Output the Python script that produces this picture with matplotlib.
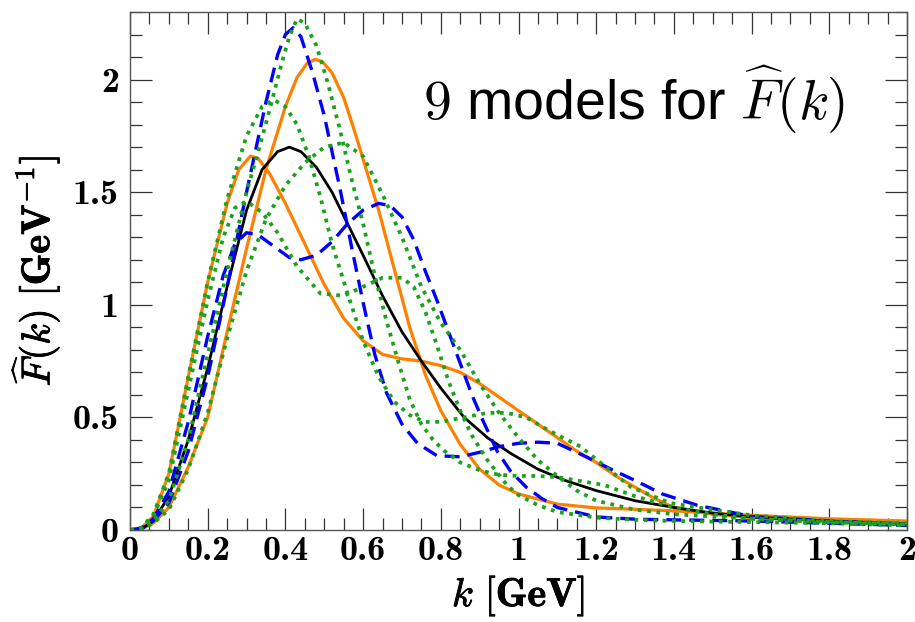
import matplotlib.pyplot as plt
import matplotlib.patheffects as pe
from matplotlib.ticker import MultipleLocator, FormatStrFormatter

plt.rcParams['mathtext.fontset'] = 'cm'

# central model (black)
k_c = [0, 0.03, 0.06, 0.1, 0.15, 0.2, 0.25, 0.3, 0.34, 0.38, 0.41, 0.44, 0.48, 0.52, 0.56, 0.6,
       0.65, 0.7, 0.75, 0.8, 0.86, 0.92, 0.98, 1.05, 1.12, 1.2, 1.3, 1.4, 1.5, 1.6, 1.8, 2.0]
F_c = [0, 0.005, 0.04, 0.15, 0.40, 0.72, 1.08, 1.42, 1.60, 1.68, 1.70, 1.68, 1.61, 1.50, 1.36, 1.22,
       1.04, 0.88, 0.75, 0.63, 0.50, 0.41, 0.34, 0.27, 0.22, 0.175, 0.13, 0.10, 0.075, 0.058, 0.04, 0.028]

# orange models
k_o1 = [0, 0.03, 0.06, 0.1, 0.15, 0.2, 0.25, 0.28, 0.31, 0.33, 0.36, 0.4, 0.45, 0.5, 0.55, 0.6,
        0.65, 0.7, 0.75, 0.8, 0.85, 0.9, 0.95, 1.0, 1.05, 1.1, 1.15, 1.2, 1.25, 1.3, 1.35, 1.4,
        1.5, 1.6, 1.8, 2.0]
F_o1 = [0, 0.01, 0.06, 0.25, 0.68, 1.10, 1.45, 1.60, 1.66, 1.65, 1.58, 1.45, 1.27, 1.09, 0.94, 0.84,
        0.78, 0.76, 0.75, 0.73, 0.70, 0.65, 0.59, 0.53, 0.47, 0.41, 0.35, 0.30, 0.24, 0.19, 0.14, 0.10,
        0.07, 0.055, 0.04, 0.03]
k_o2 = [0, 0.03, 0.06, 0.1, 0.15, 0.2, 0.25, 0.3, 0.35, 0.4, 0.43, 0.455, 0.476, 0.495, 0.52, 0.55,
        0.58, 0.61, 0.64, 0.68, 0.72, 0.76, 0.8, 0.85, 0.9, 0.95, 1.0, 1.1, 1.2, 1.3, 1.4, 1.5,
        1.6, 1.8, 2.0]
F_o2 = [0, 0.005, 0.03, 0.10, 0.28, 0.50, 0.88, 1.25, 1.60, 1.88, 2.01, 2.07, 2.09, 2.08, 2.03, 1.92,
        1.76, 1.59, 1.42, 1.16, 0.90, 0.69, 0.53, 0.38, 0.27, 0.20, 0.16, 0.115, 0.098, 0.092, 0.085, 0.075,
        0.065, 0.05, 0.04]

# blue models
k_b1 = [0, 0.03, 0.06, 0.1, 0.15, 0.2, 0.25, 0.3, 0.35, 0.38, 0.4, 0.42, 0.44, 0.47, 0.5, 0.54,
        0.57, 0.6, 0.63, 0.66, 0.7, 0.74, 0.79, 0.85, 0.9, 0.95, 1.0, 1.05, 1.1, 1.18, 1.25, 1.3,
        1.37, 1.46, 1.6, 1.8, 2.0]
F_b1 = [0, 0.005, 0.04, 0.12, 0.35, 0.68, 1.08, 1.50, 1.90, 2.11, 2.20, 2.23, 2.19, 2.03, 1.84, 1.52,
        1.26, 1.01, 0.78, 0.61, 0.47, 0.385, 0.33, 0.325, 0.345, 0.37, 0.385, 0.39, 0.385, 0.32, 0.26, 0.22,
        0.16, 0.11, 0.06, 0.04, 0.025]
k_b2 = [0, 0.03, 0.06, 0.1, 0.15, 0.2, 0.24, 0.27, 0.3, 0.33, 0.37, 0.41, 0.44, 0.48, 0.52, 0.56,
        0.6, 0.64, 0.67, 0.7, 0.73, 0.76, 0.79, 0.82, 0.85, 0.88, 0.91, 0.945, 0.98, 1.02, 1.06, 1.1,
        1.2, 1.3, 1.4, 1.6, 1.8, 2.0]
F_b2 = [0, 0.008, 0.05, 0.17, 0.48, 0.86, 1.13, 1.27, 1.32, 1.31, 1.26, 1.21, 1.20, 1.22, 1.28, 1.36,
        1.42, 1.45, 1.44, 1.39, 1.29, 1.15, 1.02, 0.88, 0.74, 0.60, 0.48, 0.35, 0.26, 0.19, 0.14, 0.10,
        0.058, 0.048, 0.045, 0.04, 0.03, 0.02]

# green models
k_g1 = [0, 0.03, 0.06, 0.1, 0.15, 0.2, 0.25, 0.3, 0.33, 0.36, 0.39, 0.41, 0.43, 0.45, 0.48, 0.51,
        0.54, 0.57, 0.6, 0.63, 0.66, 0.69, 0.72, 0.75, 0.78, 0.81, 0.85, 0.9, 0.95, 1.0, 1.05, 1.1,
        1.15, 1.22, 1.3, 1.4, 1.5, 1.6, 1.8, 2.0]
F_g1 = [0, 0.005, 0.04, 0.13, 0.40, 0.78, 1.15, 1.50, 1.68, 1.87, 2.07, 2.19, 2.27, 2.25, 2.15, 1.98,
        1.78, 1.56, 1.36, 1.13, 0.93, 0.75, 0.58, 0.47, 0.40, 0.35, 0.30, 0.265, 0.245, 0.24, 0.24, 0.235,
        0.22, 0.20, 0.15, 0.10, 0.07, 0.05, 0.035, 0.025]
k_g2 = [0, 0.03, 0.06, 0.1, 0.15, 0.2, 0.25, 0.3, 0.34, 0.37, 0.4, 0.43, 0.46, 0.49, 0.52, 0.56,
        0.6, 0.64, 0.68, 0.72, 0.76, 0.8, 0.86, 0.92, 0.97, 1.02, 1.08, 1.16, 1.21, 1.29, 1.39, 1.48,
        1.6, 1.8, 2.0]
F_g2 = [0, 0.01, 0.07, 0.25, 0.68, 1.10, 1.47, 1.75, 1.88, 1.91, 1.88, 1.80, 1.66, 1.48, 1.27, 1.05,
        0.84, 0.68, 0.57, 0.51, 0.48, 0.48, 0.50, 0.52, 0.52, 0.50, 0.44, 0.37, 0.30, 0.19, 0.12, 0.095,
        0.065, 0.04, 0.03]
k_g3 = [0, 0.03, 0.06, 0.1, 0.15, 0.2, 0.25, 0.3, 0.35, 0.4, 0.45, 0.5, 0.55, 0.6, 0.65, 0.7,
        0.75, 0.8, 0.85, 0.9, 0.95, 1.0, 1.05, 1.1, 1.15, 1.2, 1.3, 1.4, 1.5, 1.6, 1.8, 2.0]
F_g3 = [0, 0.004, 0.03, 0.09, 0.27, 0.52, 0.85, 1.15, 1.38, 1.53, 1.63, 1.70, 1.72, 1.66, 1.49, 1.30,
        1.08, 0.92, 0.80, 0.65, 0.52, 0.41, 0.31, 0.24, 0.175, 0.13, 0.09, 0.07, 0.06, 0.05, 0.035, 0.025]
k_g4 = [0, 0.03, 0.06, 0.1, 0.15, 0.2, 0.24, 0.27, 0.3, 0.34, 0.38, 0.43, 0.49, 0.55, 0.6, 0.65,
        0.7, 0.73, 0.76, 0.79, 0.82, 0.85, 0.88, 0.92, 0.97, 1.0, 1.05, 1.1, 1.2, 1.3, 1.4, 1.6,
        1.8, 2.0]
F_g4 = [0, 0.01, 0.06, 0.22, 0.62, 1.02, 1.30, 1.43, 1.46, 1.41, 1.32, 1.17, 1.05, 1.04, 1.08, 1.12,
        1.12, 1.08, 0.97, 0.82, 0.66, 0.53, 0.42, 0.31, 0.20, 0.155, 0.11, 0.08, 0.055, 0.045, 0.04, 0.035,
        0.03, 0.02]

ORANGE = '#ff8000'
BLUE = '#0000ff'
GREEN = '#1aa31a'

fig = plt.figure(figsize=(9.15, 6.22), dpi=100)
ax = fig.add_axes([130/915, 92/622, 777/915, 518/622])

for k, F in [(k_o1, F_o1), (k_o2, F_o2)]:
    ax.plot(k, F, color=ORANGE, lw=2.3, solid_joinstyle='round')
ax.plot(k_c, F_c, color='black', lw=2.0, solid_joinstyle='round')
for k, F in [(k_b1, F_b1), (k_b2, F_b2)]:
    ax.plot(k, F, color=BLUE, lw=2.4, linestyle=(0, (4.5, 2.4)))
for k, F in [(k_g1, F_g1), (k_g2, F_g2), (k_g3, F_g3), (k_g4, F_g4)]:
    ax.plot(k, F, color=GREEN, lw=2.7, linestyle=(0, (1, 1.5)))

ax.set_xlim(0, 2)
ax.set_ylim(0, 2.3)
ax.xaxis.set_major_locator(MultipleLocator(0.2))
ax.xaxis.set_minor_locator(MultipleLocator(0.05))
ax.yaxis.set_major_locator(MultipleLocator(0.5))
ax.yaxis.set_minor_locator(MultipleLocator(0.1))
ax.xaxis.set_major_formatter(FormatStrFormatter('%g'))
ax.yaxis.set_major_formatter(FormatStrFormatter('%g'))
ax.tick_params(which='both', direction='in', top=True, right=True, color='#333333')
ax.tick_params(which='major', length=16, width=0.9, labelsize=26)
ax.tick_params(which='minor', length=8.5, width=0.9)
ax.tick_params(axis='x', pad=4)
ax.tick_params(axis='y', pad=8)
for lab in ax.get_xticklabels() + ax.get_yticklabels():
    lab.set_fontfamily('cmb10')
for sp in ax.spines.values():
    sp.set_color('#555555')
    sp.set_linewidth(1.0)

bold = [pe.withStroke(linewidth=0.6, foreground='black')]
ax.set_xlabel(r'$k\ \mathbf{[GeV]}$', fontsize=29, labelpad=6, path_effects=bold)
ax.set_ylabel(r'$\widehat{F}(k)\ \mathbf{[GeV}^{-\mathbf{1}}\mathbf{]}$', fontsize=29, labelpad=8,
              path_effects=bold)

ax.text(0.92, 0.792, r'$9$ models for $\widehat{F}(k)$', transform=ax.transAxes,
        ha='right', va='baseline', fontsize=40, family='Liberation Sans', math_fontfamily='cm')

fig.savefig('out.png', dpi=100)
